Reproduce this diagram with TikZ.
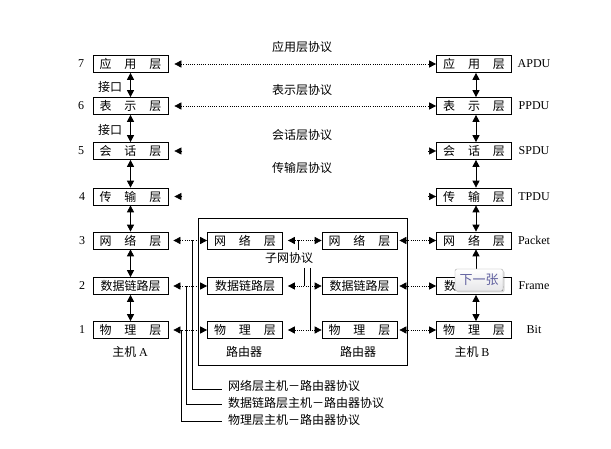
\documentclass[tikz,border=0pt]{standalone}
\usepackage{fontspec}
\setmainfont{Liberation Serif}
\newfontfamily\cjk{Noto Sans CJK SC}
\usetikzlibrary{arrows.meta,shadows}
\newcommand\gapx{\hspace{13pt}}
\begin{document}
\begin{tikzpicture}[x=1pt,y=-1pt,
  >={Triangle[length=7pt,width=7pt]},
  lay/.style={draw, line width=0.7pt, minimum width=75pt, minimum height=17pt, inner sep=0pt, font=\cjk\fontsize{12}{12}\selectfont},
  lbl/.style={font=\cjk\fontsize{12}{12}\selectfont, inner sep=0pt},
  lat/.style={font=\fontsize{12}{12}\selectfont, inner sep=0pt},
  prot/.style={dash pattern=on 1pt off 1.2pt, line width=0.7pt},
  vv/.style={<->, line width=0.8pt},
  ln/.style={line width=0.7pt}]
\useasboundingbox (0,0) rectangle (611,449);
\fill[white] (0,0) rectangle (611,449);

% router frame
\node[draw, line width=0.7pt, minimum width=209pt, minimum height=147pt, inner sep=0pt] (rt) at (302.5,291.5) {};

% host A
\node[lay] (a7) at (130.5,64) {应\gapx 用\gapx 层};
\node[lay] (a6) at (130.5,106) {表\gapx 示\gapx 层};
\node[lay] (a5) at (130.5,151) {会\gapx 话\gapx 层};
\node[lay] (a4) at (130.5,196.5) {传\gapx 输\gapx 层};
\node[lay] (a3) at (130.5,240.5) {网\gapx 络\gapx 层};
\node[lay] (a2) at (130.5,286) {数据链路层};
\node[lay] (a1) at (130.5,330) {物\gapx 理\gapx 层};

% host B
\node[lay] (b7) at (474,64) {应\gapx 用\gapx 层};
\node[lay] (b6) at (474,106) {表\gapx 示\gapx 层};
\node[lay] (b5) at (474,151) {会\gapx 话\gapx 层};
\node[lay] (b4) at (474,196.5) {传\gapx 输\gapx 层};
\node[lay] (b3) at (474,240.5) {网\gapx 络\gapx 层};
\node[lay] (b2) at (474,286) {数据链路层};
\node[lay] (b1) at (474,330) {物\gapx 理\gapx 层};

% routers
\node[lay] (l3) at (245,240.5) {网\gapx 络\gapx 层};
\node[lay] (l2) at (245,286) {数据链路层};
\node[lay] (l1) at (245,330) {物\gapx 理\gapx 层};
\node[lay] (r3) at (359.5,240.5) {网\gapx 络\gapx 层};
\node[lay] (r2) at (359.5,286) {数据链路层};
\node[lay] (r1) at (359.5,330) {物\gapx 理\gapx 层};

% layer numbers
\node[lat] (n7) at (81,64) {7};
\node[lat] (n6) at (81,106) {6};
\node[lat] (n5) at (81,151) {5};
\node[lat] (n4) at (82,196.5) {4};
\node[lat] (n3) at (82,240.5) {3};
\node[lat] (n2) at (82,286) {2};
\node[lat] (n1) at (82,330) {1};

% PDU names
\node[lat] (u7) at (534,64) {APDU};
\node[lat] (u6) at (534,106) {PPDU};
\node[lat] (u5) at (534,151) {SPDU};
\node[lat] (u4) at (534,196.5) {TPDU};
\node[lat] (u3) at (534,240.5) {Packet};
\node[lat] (u2) at (534,286) {Frame};
\node[lat] (u1) at (534,330) {Bit};

% protocol labels
\node[lbl] (t7) at (302,47) {应用层协议};
\node[lbl] (t6) at (302,90) {表示层协议};
\node[lbl] (t5) at (302,135) {会话层协议};
\node[lbl] (t4) at (302,168) {传输层协议};
\node[lbl] (j1) at (110,87) {接口};
\node[lbl] (j2) at (110,130) {接口};
\node[lbl] (sub) at (289,258) {子网协议};

% bottom labels
\node[lbl] (ha) at (130,352) {主机 {\rmfamily A}};
\node[lbl] (hb) at (472,352) {主机 {\rmfamily B}};
\node[lbl] (ra) at (244,352) {路由器};
\node[lbl] (rb) at (358,352) {路由器};

% vertical interface arrows
\draw[vv] (a7) -- (a6);
\draw[vv] (a6) -- (a5);
\draw[vv] (a5) -- (a4);
\draw[vv] (a4) -- (a3);
\draw[vv] (a3) -- (a2);
\draw[vv] (a2) -- (a1);
\draw[vv] ([xshift=2pt]b7.south) -- ([xshift=2pt]b6.north);
\draw[vv] ([xshift=2pt]b6.south) -- ([xshift=2pt]b5.north);
\draw[vv] ([xshift=2pt]b5.south) -- ([xshift=2pt]b4.north);
\draw[vv] ([xshift=2pt]b4.south) -- ([xshift=2pt]b3.north);
\draw[vv] ([xshift=2pt]b3.south) -- ([xshift=2pt]b2.north);
\draw[vv] ([xshift=2pt]b2.south) -- ([xshift=2pt]b1.north);

% peer protocols
\draw[prot,<->,shorten <=6pt] (a7.east) -- (b7.west);
\draw[prot,<->,shorten <=6pt] (a6.east) -- (b6.west);
\draw[->] ([xshift=14pt]a5.east) -- ([xshift=6pt]a5.east);
\draw[->] ([xshift=-8pt]b5.west) -- (b5.west);
\draw[->] ([xshift=14pt]a4.east) -- ([xshift=6pt]a4.east);
\draw[->] ([xshift=-8pt]b4.west) -- (b4.west);

\draw[prot,<->,shorten <=5pt] (a3.east) -- (l3.west);
\draw[prot,<->,shorten <=5pt] (l3.east) -- (r3.west);
\draw[prot,<->,shorten <=2pt] (r3.east) -- (b3.west);
\draw[prot,<->,shorten <=5pt] (a2.east) -- (l2.west);
\draw[prot,<->,shorten <=5pt] (l2.east) -- (r2.west);
\draw[prot,<->,shorten <=2pt] (r2.east) -- (b2.west);
\draw[prot,<->,shorten <=5pt] (a1.east) -- (l1.west);
\draw[prot,<->,shorten <=5pt] (l1.east) -- (r1.west);
\draw[prot,<->,shorten <=2pt] (r1.east) -- (b1.west);

% subnet protocol leaders
\coordinate (s3) at (298,240.5);
\coordinate (s2) at (304,286);
\coordinate (s1) at (310,330);
\draw[ln] (s3) -- (298,250);
\draw[ln] (304,268) -- (s2);
\draw[ln] (310,268) -- (s1);

% host-router protocol leaders
\node[lbl, anchor=west] (p3) at (228,386) {网络层主机－路由器协议};
\node[lbl, anchor=west] (p2) at (228,403) {数据链路层主机－路由器协议};
\node[lbl, anchor=west] (p1) at (228,420) {物理层主机－路由器协议};
\coordinate (q3) at (192,240.5);
\coordinate (q2) at (186,286);
\coordinate (q1) at (181,330);
\draw[ln] (q3) |- ([xshift=-6pt,yshift=-3pt]p3.west);
\draw[ln] (q2) |- ([xshift=-6pt,yshift=-1.5pt]p2.west);
\draw[ln] (q1) |- ([xshift=-6pt,yshift=-1pt]p1.west);

% overlay button
\node[draw=gray!70, rounded corners=2pt, top color=white, bottom color=blue!6!gray!18,
  minimum width=48pt, minimum height=22pt, inner sep=0pt,
  drop shadow={shadow xshift=1.5pt, shadow yshift=-1.5pt, opacity=0.3},
  font=\cjk\fontsize{13}{13}\selectfont, text=blue!25!gray] (btn) at (479,280) {下一张};
\end{tikzpicture}
\end{document}
